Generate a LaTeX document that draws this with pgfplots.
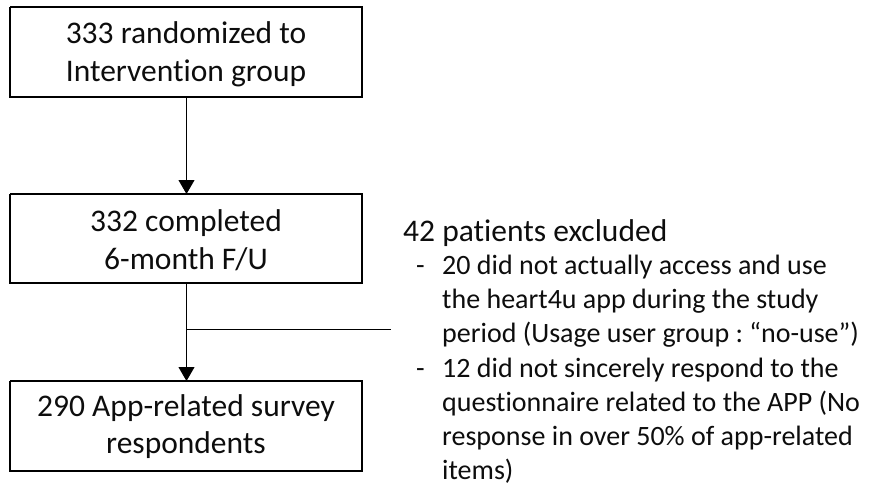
\documentclass[border=0pt]{standalone}
\usepackage{pgfplots}
\pgfplotsset{compat=1.18}
\usepackage{fontspec}
\setmainfont{Carlito}[Ligatures={NoCommon,TeX}]
\usetikzlibrary{arrows.meta}
\definecolor{txt}{HTML}{0d0d0d}
\frenchspacing
\begin{document}
\begin{tikzpicture}
\begin{axis}[
  width=870bp, height=485bp, scale only axis,
  xmin=0, xmax=870, ymin=0, ymax=485, y dir=reverse,
  hide axis, clip=false,
]
% boxes
\addplot[draw=black, line width=1.3bp] coordinates {(10,7) (362,7) (362,97) (10,97) (10,7)};
\addplot[draw=black, line width=1.3bp] coordinates {(10,194) (362,194) (362,283) (10,283) (10,194)};
\addplot[draw=black, line width=1.3bp] coordinates {(10,381) (362,381) (362,471) (10,471) (10,381)};
% arrows
\addplot[draw=black, line width=0.9bp, -{Triangle[width=16bp,length=14bp]}] coordinates {(186.5,97) (186.5,194)};
\addplot[draw=black, line width=0.9bp, -{Triangle[width=16bp,length=14bp]}] coordinates {(186.5,283) (186.5,381)};
\addplot[draw=black, line width=0.9bp] coordinates {(186.5,329) (391,329)};
% box texts
\node[anchor=base, text=txt, font=\fontsize{31.5bp}{37bp}\selectfont] at (axis cs:186,43.5) {333 randomized to};
\node[anchor=base, text=txt, font=\fontsize{31.5bp}{37bp}\selectfont] at (axis cs:186,81.5) {Intervention group};
\node[anchor=base, text=txt, font=\fontsize{31.5bp}{37bp}\selectfont] at (axis cs:186,231.5) {332 completed};
\node[anchor=base, text=txt, font=\fontsize{31.5bp}{37bp}\selectfont] at (axis cs:186,269) {6-month F/U};
\node[anchor=base, text=txt, font=\fontsize{31.5bp}{37bp}\selectfont] at (axis cs:186,416.5) {290 App-related survey};
\node[anchor=base, text=txt, font=\fontsize{31.5bp}{37bp}\selectfont] at (axis cs:186,453) {respondents};
% exclusion text
\node[anchor=base west, inner sep=0pt, text=txt, font=\fontsize{31.5bp}{37bp}\selectfont] at (axis cs:403,241) {42 patients excluded};
\node[anchor=base west, inner sep=0pt, text=txt, font=\fontsize{28bp}{34bp}\selectfont] at (axis cs:416,274) {-};
\node[anchor=base west, inner sep=0pt, text=txt, font=\fontsize{28bp}{34bp}\selectfont] at (axis cs:442,274) {20 did not actually access and use};
\node[anchor=base west, inner sep=0pt, text=txt, font=\fontsize{28bp}{34bp}\selectfont] at (axis cs:442,308) {the heart4u app during the study};
\node[anchor=base west, inner sep=0pt, text=txt, font=\fontsize{28bp}{34bp}\selectfont] at (axis cs:442,342.5) {period (Usage user group : “no-use”)};
\node[anchor=base west, inner sep=0pt, text=txt, font=\fontsize{28bp}{34bp}\selectfont] at (axis cs:416,377) {-};
\node[anchor=base west, inner sep=0pt, text=txt, font=\fontsize{28bp}{34bp}\selectfont] at (axis cs:442,377) {12 did not sincerely respond to the};
\node[anchor=base west, inner sep=0pt, text=txt, font=\fontsize{28bp}{34bp}\selectfont] at (axis cs:442,411) {questionnaire related to the APP (No};
\node[anchor=base west, inner sep=0pt, text=txt, font=\fontsize{28bp}{34bp}\selectfont] at (axis cs:442,445) {response in over 50\% of app-related};
\node[anchor=base west, inner sep=0pt, text=txt, font=\fontsize{28bp}{34bp}\selectfont] at (axis cs:442,479) {items)};
\end{axis}
\pgfresetboundingbox
\useasboundingbox (0,0) rectangle (870bp,485bp);
\end{tikzpicture}
\end{document}
